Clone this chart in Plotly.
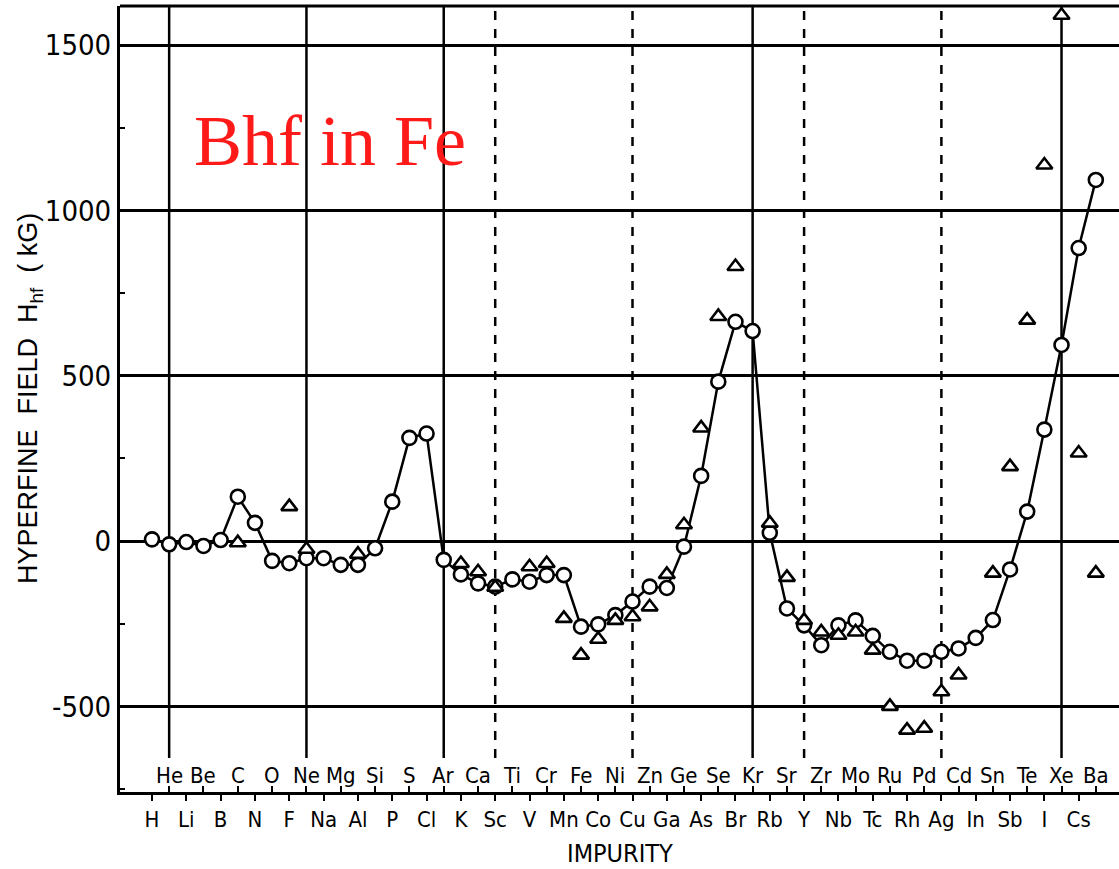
import plotly.graph_objects as go

# Impurity elements H (Z=1) ... Ba (Z=56)
elements = ["H", "He", "Li", "Be", "B", "C", "N", "O", "F", "Ne",
            "Na", "Mg", "Al", "Si", "P", "S", "Cl", "Ar", "K", "Ca",
            "Sc", "Ti", "V", "Cr", "Mn", "Fe", "Co", "Ni", "Cu", "Zn",
            "Ga", "Ge", "As", "Se", "Br", "Kr", "Rb", "Sr", "Y", "Zr",
            "Nb", "Mo", "Tc", "Ru", "Rh", "Pd", "Ag", "Cd", "In", "Sn",
            "Sb", "Te", "I", "Xe", "Cs", "Ba"]
atomic_z = list(range(1, len(elements) + 1))

# Hyperfine field (kG), connected open-circle series, one value per element
circle_field = [5, -10, -3, -15, 3, 134, 55, -60, -67, -52,
                -52, -72, -72, -22, 119, 312, 325, -57, -101, -128,
                -138, -116, -123, -103, -103, -259, -252, -224, -183, -138,
                -142, -17, 197, 482, 663, 635, 25, -204, -255, -315,
                -255, -240, -287, -335, -362, -362, -335, -325, -293, -239,
                -86, 89, 337, 593, 886, 1092]

# Second data set (open triangles)
tri_z = [6, 9, 10, 13, 19, 20, 21, 23, 24, 25, 26, 27, 28, 29, 30,
         31, 32, 33, 34, 35, 37, 38, 39, 40, 41, 42, 43, 44, 45, 46,
         47, 48, 50, 51, 52, 53, 54, 55, 56]
tri_field = [-5, 104, -25, -40, -68, -93, -140, -78, -68, -234, -345, -297, -240, -229, -199,
             -101, 49, 342, 679, 830, 54, -110, -240, -275, -285, -275, -330, -500, -572, -566,
             -456, -405, -97, 225, 668, 1137, 1590, 266, -97]

# Reference lines: noble gases (solid) and selected transition elements (dashed)
solid_line_z = [2, 10, 18, 36, 54]
dashed_line_z = [21, 29, 39, 47]

y_ticks = [-500, 0, 500, 1000, 1500]
y_ticktext = ["-500", "0", "500", "1000", "1500"]

X_RANGE = [-0.865, 57.35]
Y_RANGE = [-759, 1618]
LINE_BOTTOM = -656
TOP_ROW_Y = -708

label_font = "DejaVu Sans Condensed, Liberation Sans Narrow, Arial Narrow, sans-serif"

odd_z = [z for z in atomic_z if z % 2 == 1]
even_z = [z for z in atomic_z if z % 2 == 0]

fig = go.Figure()

fig.add_trace(go.Scatter(
    x=atomic_z, y=circle_field, mode="lines+markers",
    line=dict(color="black", width=2.5),
    marker=dict(symbol="circle", size=14, color="white",
                line=dict(color="black", width=2.6)),
    showlegend=False, hoverinfo="x+y",
))

fig.add_trace(go.Scatter(
    x=tri_z, y=tri_field, mode="markers", xaxis="x2",
    marker=dict(symbol="triangle-up", size=14, color="white",
                line=dict(color="black", width=2.6)),
    showlegend=False, hoverinfo="x+y",
))

shapes = []
for z in solid_line_z:
    shapes.append(dict(type="line", xref="x", yref="y", x0=z, x1=z,
                       y0=LINE_BOTTOM, y1=Y_RANGE[1], layer="below",
                       line=dict(color="black", width=2.5)))
for z in dashed_line_z:
    shapes.append(dict(type="line", xref="x", yref="y", x0=z, x1=z,
                       y0=LINE_BOTTOM, y1=Y_RANGE[1], layer="below",
                       line=dict(color="black", width=2.5, dash="dash")))
# top border of the frame
shapes.append(dict(type="line", xref="paper", yref="paper", x0=0, x1=1,
                   y0=1, y1=1, line=dict(color="black", width=3)))

annotations = []
# even-Z element symbols sit above the axis line
for z in even_z:
    annotations.append(dict(x=z, y=TOP_ROW_Y, xref="x", yref="y",
                            text=elements[z - 1], showarrow=False,
                            xanchor="center", yanchor="middle",
                            font=dict(family=label_font, size=22, color="black")))

annotations.append(dict(x=0.072, y=0.828, xref="paper", yref="paper",
                        text="Bhf in Fe", showarrow=False,
                        xanchor="left", yanchor="middle",
                        font=dict(family="Liberation Serif, Times New Roman, serif",
                                  size=72, color="#ff1a1a")))

annotations.append(dict(x=-0.09, y=0.5, xref="paper", yref="paper",
                        text="HYPERFINE  FIELD  H<sub>hf</sub>  ( kG)",
                        showarrow=False, textangle=-90,
                        xanchor="center", yanchor="middle",
                        font=dict(family="Liberation Sans, Arial, sans-serif",
                                  size=27, color="black")))

annotations.append(dict(x=0.5, y=-0.078, xref="paper", yref="paper",
                        text="IMPURITY", showarrow=False,
                        xanchor="center", yanchor="middle",
                        font=dict(family=label_font, size=25, color="black")))

fig.update_layout(
    width=1119, height=869,
    margin=dict(l=120, r=0, t=6, b=77),
    paper_bgcolor="white", plot_bgcolor="white",
    shapes=shapes, annotations=annotations,
    xaxis=dict(range=X_RANGE, tickmode="array", tickvals=odd_z,
               ticktext=[elements[z - 1] for z in odd_z],
               ticks="outside", ticklen=6, tickwidth=2, tickcolor="black",
               showgrid=False, zeroline=False,
               showline=True, linecolor="black", linewidth=3,
               tickfont=dict(family=label_font, size=22, color="black")),
    xaxis2=dict(range=X_RANGE, overlaying="x", anchor="y", side="bottom",
                tickmode="array", tickvals=even_z, ticks="inside",
                ticklen=6, tickwidth=2, tickcolor="black",
                showticklabels=False, showgrid=False, zeroline=False,
                showline=False),
    yaxis=dict(range=Y_RANGE, tickmode="array", tickvals=y_ticks,
               ticktext=y_ticktext, ticks="",
               showgrid=True, gridcolor="black", gridwidth=3,
               zeroline=False, showline=True, linecolor="black", linewidth=3,
               minor=dict(ticks="inside", ticklen=5, tickwidth=2,
                          tickcolor="black", dtick=250, showgrid=False),
               tickfont=dict(family=label_font, size=29, color="black")),
)

fig.write_html("out.html")
